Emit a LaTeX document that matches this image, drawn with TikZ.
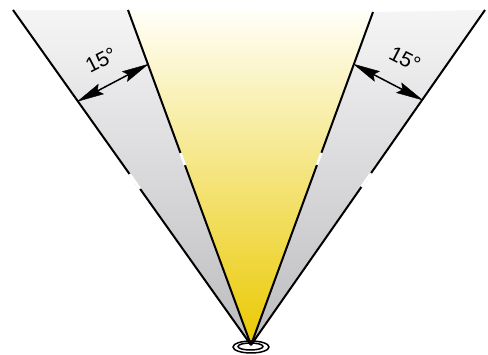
\documentclass[tikz,border=0pt]{standalone}
\usepackage{fontspec}
\setmainfont{Liberation Sans}
\usetikzlibrary{calc,shapes.geometric}
\definecolor{ytop}{HTML}{FFFFF8}
\definecolor{ymid}{HTML}{FBF1A6}
\definecolor{ybot}{HTML}{EAC900}
\definecolor{gtop}{HTML}{F5F5F6}
\definecolor{gbot}{HTML}{BCBCBF}
\tikzset{
  beam/.style={line width=2pt, black},
  gapmark/.style={line width=2.8pt, white},
  dimline/.style={line width=1.5pt, black},
  dimhead/.style={fill=black, draw=black, line width=0.4pt, line join=miter},
  dimlabel/.style={font=\fontsize{21}{21}\selectfont, inner sep=0pt},
  lamp/.style={line width=1.5pt, fill=white}
}
\newcommand{\dimtip}[2]{% tip, other end
  \fill[dimhead] (#1) -- ($(#1)!26pt!(#2)!5.5pt!90:(#1)$) -- ($(#1)!22pt!(#2)$) -- ($(#1)!26pt!(#2)!5.5pt!-90:(#1)$) -- cycle;}
\begin{document}
\begin{tikzpicture}[x=1pt,y=-1pt]
\useasboundingbox (0,0) rectangle (488,355);
\coordinate (A) at (251,345);
\coordinate (LO) at (13,10);
\coordinate (LI) at (128,10);
\coordinate (RI) at (373,12);
\coordinate (RO) at (485,10);
% fills
\shade[top color=gtop, bottom color=gbot] (A) -- (LO) -- (LI) -- cycle;
\shade[top color=gtop, bottom color=gbot] (A) -- (RI) -- (RO) -- cycle;
\shade[top color=ytop, middle color=ymid, bottom color=ybot] (A) -- (LI) -- (RI) -- cycle;
% lamp
\node[lamp, draw, ellipse, minimum width=36pt, minimum height=12pt, inner sep=0pt] (lampo) at (251,347) {};
\node[lamp, draw, ellipse, minimum width=25pt, minimum height=7pt, inner sep=0pt] (lampi) at (250.5,346.5) {};
% beam edges
\draw[beam] (A) -- (LO);
\draw[beam] (A) -- (LI);
\draw[beam] (A) -- (RI);
\draw[beam] (A) -- (RO);
% breaks in the edges
\draw[gapmark] ($(A)!0.466!(LO)$) -- ($(A)!0.510!(LO)$);
\draw[gapmark] ($(A)!0.537!(LI)$) -- ($(A)!0.573!(LI)$);
\draw[gapmark] ($(A)!0.541!(RI)$) -- ($(A)!0.577!(RI)$);
\draw[gapmark] ($(A)!0.472!(RO)$) -- ($(A)!0.513!(RO)$);
% dimension arrows
\coordinate (la) at ($(A)!299pt!(LO)$);
\coordinate (lb) at ($(A)!299pt!(LI)$);
\coordinate (ra) at ($(A)!299pt!(RI)$);
\coordinate (rb) at ($(A)!299pt!(RO)$);
\draw[dimline] ($(la)!20pt!(lb)$) -- ($(lb)!20pt!(la)$);
\draw[dimline] ($(ra)!20pt!(rb)$) -- ($(rb)!20pt!(ra)$);
\dimtip{la}{lb}
\dimtip{lb}{la}
\dimtip{ra}{rb}
\dimtip{rb}{ra}
\node[dimlabel, rotate=27] (tl) at (101,60) {15°};
\node[dimlabel, rotate=-27] (tr) at (405,59) {15°};
\end{tikzpicture}
\end{document}
